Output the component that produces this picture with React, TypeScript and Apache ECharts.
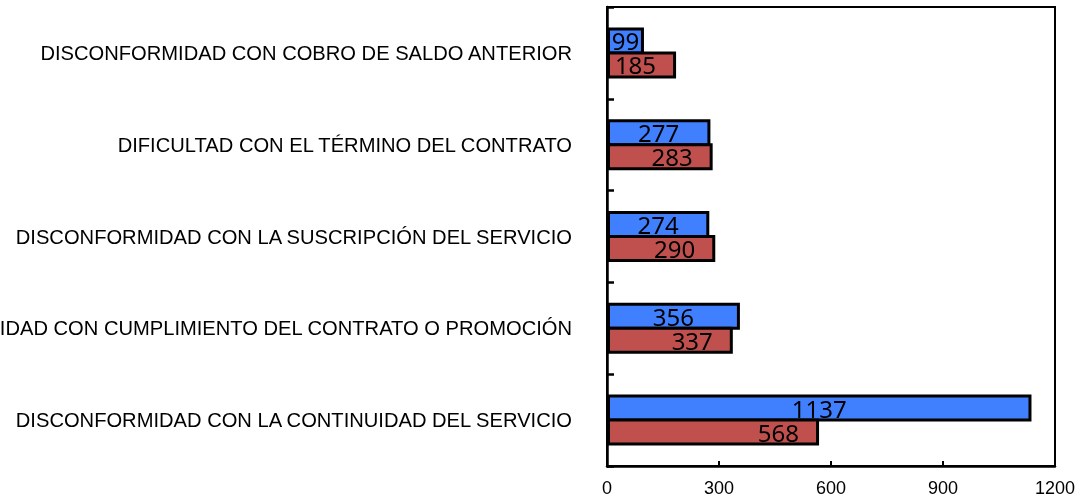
import React, { useEffect, useRef } from "react";
import * as echarts from "echarts";

const categories = [
  "DISCONFORMIDAD CON LA CONTINUIDAD DEL SERVICIO",
  "DISCONFORMIDAD CON CUMPLIMIENTO DEL CONTRATO O PROMOCIÓN",
  "DISCONFORMIDAD CON LA SUSCRIPCIÓN DEL SERVICIO",
  "DIFICULTAD CON EL TÉRMINO DEL CONTRATO",
  "DISCONFORMIDAD CON COBRO DE SALDO ANTERIOR",
];
const blueValues = [1137, 356, 274, 277, 99];
const redValues = [568, 337, 290, 283, 185];
const xTicks = { min: 0, max: 1200, interval: 300 };

export default function App() {
  const ref = useRef<HTMLDivElement>(null);
  useEffect(() => {
    if (!ref.current) return;
    const chart = echarts.init(ref.current, undefined, { renderer: "svg" });
    const valueFont = { fontFamily: "Noto Sans", fontSize: 24, color: "#000" };
    chart.setOption({
      animation: false,
      grid: {
        left: 607,
        right: 30,
        top: 7,
        bottom: 31,
        containLabel: false,
        outerBoundsMode: "none",
        show: true,
        borderColor: "#000",
        borderWidth: 2,
      },
      xAxis: {
        type: "value",
        min: xTicks.min,
        max: xTicks.max,
        interval: xTicks.interval,
        axisLine: { show: true, lineStyle: { color: "#000", width: 2.5 } },
        axisTick: { show: true, inside: true, length: 5, lineStyle: { color: "#000", width: 2 } },
        splitLine: { show: false },
        axisLabel: {
          fontFamily: "Liberation Sans",
          fontSize: 18,
          color: "#000",
          margin: 13,
          formatter: (v: number) => String(v),
        },
      },
      yAxis: {
        type: "category",
        data: categories,
        axisLine: { show: true, lineStyle: { color: "#000", width: 2.5 } },
        axisTick: { show: true, inside: true, length: 7, lineStyle: { color: "#000", width: 2.5 } },
        axisLabel: { fontFamily: "Liberation Sans", fontSize: 20.15, color: "#000", margin: 35 },
      },
      series: [
        {
          type: "bar",
          data: blueValues,
          barWidth: 27,
          barGap: "-11%",
          itemStyle: { color: "#4080ff", borderColor: "#000", borderWidth: 3 },
          label: { show: true, position: "inside", ...valueFont },
        },
        {
          type: "bar",
          data: redValues,
          barWidth: 27,
          barGap: "-11%",
          itemStyle: { color: "#c0504d", borderColor: "#000", borderWidth: 3 },
          label: { show: true, position: "insideRight", distance: 20, ...valueFont },
        },
      ],
    });
    return () => chart.dispose();
  }, []);
  return (
    <div
      ref={ref}
      style={{ position: "fixed", left: 0, top: 0, width: 1085, height: 497 }}
    />
  );
}
